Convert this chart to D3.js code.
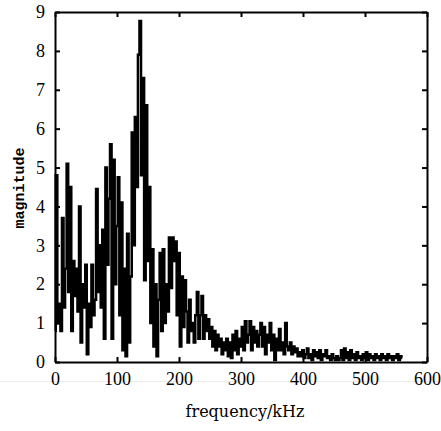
<!DOCTYPE html>
<html>
<head>
<meta charset="utf-8">
<script src="https://cdn.jsdelivr.net/npm/d3@7"></script>
<style>
  body { margin: 0; background: #fff; }
</style>
</head>
<body>
<div id="wrapper"></div>
<script>
// spectrum samples, one every freqStep kHz starting at 0
const freqStep = 2.5

// 0 - 147.5 kHz
const lowBand = [
  0.8, 4.8, 1.0, 1.5, 0.8, 3.7, 1.4, 2.4, 5.1, 1.8,
  4.5, 0.8, 2.6, 1.7, 2.4, 1.3, 4.0, 0.5, 2.0, 1.4,
  2.5, 0.2, 1.5, 0.9, 2.5, 1.2, 1.6, 4.45, 1.8, 3.0,
  1.4, 3.4, 0.6, 5.0, 2.5, 4.2, 5.6, 0.6, 5.2, 2.0,
  3.5, 4.75, 1.2, 4.1, 0.3, 2.4, 0.15, 3.3, 0.5, 2.2,
  5.9, 3.0, 6.3, 4.5, 7.9, 8.77, 4.8, 7.3, 2.1, 6.6
]
// 150 - 297.5 kHz
const midBand = [
  2.6, 4.5, 1.0, 2.9, 0.4, 2.0, 0.15, 1.6, 2.8, 0.8,
  2.9, 1.0, 2.0, 1.3, 3.2, 1.9, 3.2, 2.6, 3.1, 1.2,
  2.8, 0.4, 2.2, 0.9, 2.1, 1.3, 0.5, 1.6, 0.8, 1.0,
  0.5, 1.2, 1.8, 0.6, 1.2, 1.7, 0.6, 1.2, 0.8, 1.1,
  0.6, 0.9, 0.4, 0.8, 0.3, 0.7, 0.4, 0.6, 0.2, 0.5,
  0.3, 0.6, 0.15, 0.5, 0.1, 0.7, 0.3, 0.8, 0.2, 0.6
]
// 300 - 560 kHz
const highBand = [
  0.4, 0.9, 0.3, 1.05, 0.5, 0.7, 1.05, 0.3, 0.9, 0.5,
  0.8, 0.4, 0.7, 1.0, 0.4, 0.9, 0.2, 0.7, 0.5, 1.0,
  0.3, 0.7, 0.05, 0.6, 0.3, 0.85, 0.3, 0.5, 0.2, 1.0,
  0.4, 0.3, 0.5, 0.2, 0.4, 0.25, 0.35, 0.15, 0.25, 0.15,
  0.3, 0.1, 0.2, 0.35, 0.1, 0.2, 0.05, 0.3, 0.15, 0.25,
  0.1, 0.3, 0.05, 0.2, 0.15, 0.3, 0.1, 0.15, 0.05, 0.2,
  0.1, 0.05, 0.15, 0.05, 0.1, 0.3, 0.05, 0.35, 0.1, 0.25,
  0.05, 0.3, 0.1, 0.2, 0.05, 0.25, 0.1, 0.15, 0.05, 0.2,
  0.1, 0.25, 0.05, 0.2, 0.1, 0.15, 0.05, 0.2, 0.1, 0.15,
  0.05, 0.2, 0.1, 0.15, 0.05, 0.2, 0.1, 0.15, 0.05, 0.15,
  0.1, 0.2, 0.05, 0.15, 0.1
]

const xTicks = [0, 100, 200, 300, 400, 500, 600]
const yTicks = [0, 1, 2, 3, 4, 5, 6, 7, 8, 9]

const magnitudes = lowBand.concat(midBand, highBand)
const dataset = magnitudes.map((m, i) => ({ freq: i * freqStep, mag: m }))

const xAccessor = d => d.freq
const yAccessor = d => d.mag

let dimensions = {
  width: 441,
  height: 431,
  margin: { top: 12, right: 14, bottom: 69, left: 55 }
}
dimensions.boundedWidth = dimensions.width - dimensions.margin.left - dimensions.margin.right
dimensions.boundedHeight = dimensions.height - dimensions.margin.top - dimensions.margin.bottom

const wrapper = d3.select("#wrapper")
  .append("svg")
    .attr("width", dimensions.width)
    .attr("height", dimensions.height)

// faint scan line under the tick labels
wrapper.append("line")
    .attr("x1", 0).attr("x2", dimensions.width)
    .attr("y1", 381.5).attr("y2", 381.5)
    .attr("stroke", "#ececec")

const bounds = wrapper.append("g")
    .attr("transform", `translate(${dimensions.margin.left},${dimensions.margin.top})`)

const xScale = d3.scaleLinear()
    .domain([0, 600])
    .range([0, dimensions.boundedWidth])

const yScale = d3.scaleLinear()
    .domain([0, 9])
    .range([dimensions.boundedHeight, 0])

// the spectrum
const lineGenerator = d3.line()
    .x(d => xScale(xAccessor(d)))
    .y(d => yScale(yAccessor(d)))
    .curve(d3.curveStep)

bounds.append("path")
    .attr("d", lineGenerator(dataset))
    .attr("fill", "none")
    .attr("stroke", "#000")
    .attr("stroke-width", 2.5)

// axes: ticks point inward on all four sides
const tickFont = "'Liberation Serif', serif"

const xAxis = bounds.append("g")
    .attr("transform", `translate(0,${dimensions.boundedHeight})`)
    .call(d3.axisBottom(xScale).tickValues(xTicks).tickSizeInner(-5).tickSizeOuter(0).tickPadding(10))
const xAxisTop = bounds.append("g")
    .call(d3.axisTop(xScale).tickValues(xTicks).tickSizeInner(-5).tickSizeOuter(0).tickFormat(""))
const yAxis = bounds.append("g")
    .call(d3.axisLeft(yScale).tickValues(yTicks).tickSizeInner(-5).tickSizeOuter(0).tickPadding(10))
const yAxisRight = bounds.append("g")
    .attr("transform", `translate(${dimensions.boundedWidth},0)`)
    .call(d3.axisRight(yScale).tickValues(yTicks).tickSizeInner(-5).tickSizeOuter(0).tickFormat(""))

;[xAxis, xAxisTop, yAxis, yAxisRight].forEach(axis => {
  axis.select(".domain").attr("stroke", "#000").attr("stroke-width", 2)
  axis.selectAll(".tick line").attr("stroke", "#000").attr("stroke-width", 2)
  axis.selectAll(".tick text")
      .attr("fill", "#000")
      .style("font-family", tickFont)
      .style("font-size", "18px")
})

// axis labels
wrapper.append("text")
    .attr("x", 245)
    .attr("y", 417)
    .attr("text-anchor", "middle")
    .style("font-family", "'DejaVu Serif', serif")
    .style("font-size", "16px")
    .text("frequency/kHz")

wrapper.append("text")
    .attr("transform", "translate(24,188) rotate(-90)")
    .attr("text-anchor", "middle")
    .style("font-family", "'Liberation Mono', monospace")
    .style("font-weight", "bold")
    .style("font-size", "15px")
    .text("magnitude")
</script>
</body>
</html>
